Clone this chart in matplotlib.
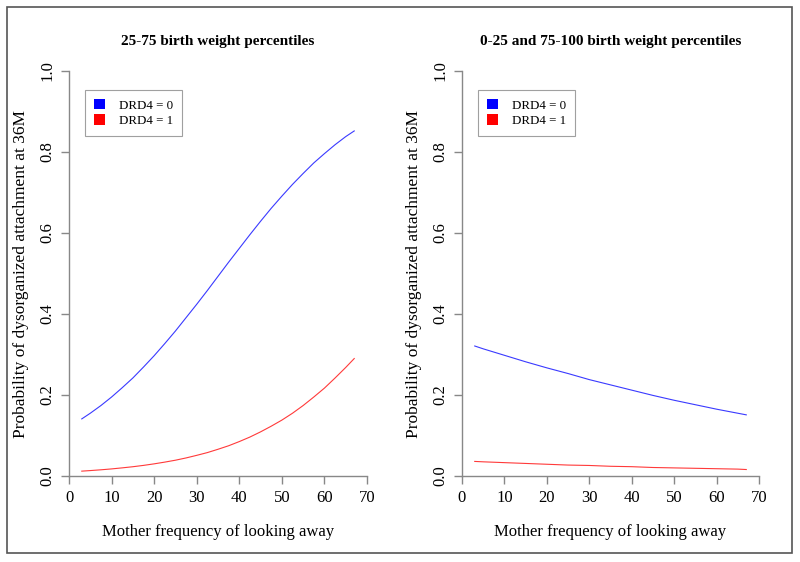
import matplotlib
matplotlib.use("Agg")
import matplotlib.pyplot as plt
from matplotlib.patches import Rectangle

plt.rcParams['font.family'] = ['Liberation Serif', 'DejaVu Serif']

# Data
left_x = [3, 5, 7.5, 10, 12.5, 15, 17.5, 20, 22.5, 25, 27.5, 30, 32.5, 35,
          37.5, 40, 42.5, 45, 47.5, 50, 52.5, 55, 57.5, 60, 62.5, 65, 67]
left_drd0 = [0.141, 0.155, 0.174, 0.195, 0.218, 0.242, 0.269, 0.297, 0.327,
             0.358, 0.391, 0.424, 0.458, 0.493, 0.528, 0.562, 0.596, 0.629,
             0.661, 0.691, 0.720, 0.747, 0.773, 0.796, 0.818, 0.838, 0.852]
left_drd1 = [0.012, 0.0134, 0.0153, 0.0175, 0.0201, 0.0229, 0.0262, 0.030,
             0.0343, 0.039, 0.0446, 0.051, 0.0578, 0.066, 0.0747, 0.085,
             0.0962, 0.109, 0.123, 0.138, 0.155, 0.174, 0.195, 0.217, 0.242,
             0.268, 0.290]

right_x = [3, 5, 10, 15, 20, 25, 30, 35, 40, 45, 50, 55, 60, 65, 67]
right_drd0 = [0.321, 0.314, 0.298, 0.282, 0.267, 0.253, 0.238, 0.225,
              0.212, 0.199, 0.187, 0.176, 0.165, 0.155, 0.151]
right_drd1 = [0.036, 0.035, 0.033, 0.031, 0.029, 0.027, 0.026, 0.024,
              0.023, 0.021, 0.020, 0.019, 0.018, 0.017, 0.016]

titles = ["25-75 birth weight percentiles",
          "0-25 and 75-100 birth weight percentiles"]
legend_labels = ["DRD4 = 0", "DRD4 = 1"]
xlabel = "Mother frequency of looking away"
ylabel = "Probability of dysorganized attachment at 36M"
xticks = [0, 10, 20, 30, 40, 50, 60, 70]
yticks = [0.0, 0.2, 0.4, 0.6, 0.8, 1.0]

fig = plt.figure(figsize=(8.0, 5.62), dpi=100)

# outer frame
fig.patches.append(Rectangle((7/800, 1-553/562), 785/800, 546/562,
                             transform=fig.transFigure, fill=False,
                             edgecolor='#555555', linewidth=1.2))

axes_pos = [[69/800, 1-476/562, 298/800, 405/562],
            [462/800, 1-476/562, 297/800, 405/562]]
series = [(left_x, left_drd0, left_drd1), (right_x, right_drd0, right_drd1)]

for pos, (xs, s0, s1), title in zip(axes_pos, series, titles):
    ax = fig.add_axes(pos)
    ax.plot(xs, s0, color='#3a3aff', lw=0.8)
    ax.plot(xs, s1, color='#ff3a3a', lw=0.8)
    ax.set_xlim(0, 70)
    ax.set_ylim(0, 1)
    for sp in ['top', 'right']:
        ax.spines[sp].set_visible(False)
    for sp in ['left', 'bottom']:
        ax.spines[sp].set_color('#888888')
        ax.spines[sp].set_linewidth(1.0)
    ax.set_xticks(xticks)
    ax.set_yticks(yticks)
    ax.set_xticklabels([str(t) for t in xticks])
    ax.set_yticklabels([f"{t:.1f}" for t in yticks], rotation=90, va='center')
    ax.tick_params(axis='both', colors='#888888', labelcolor='black',
                   labelsize=12, length=6, width=1.0)
    ax.tick_params(axis='x', pad=4)
    ax.tick_params(axis='y', pad=4)
    ax.set_xlabel(xlabel, fontsize=12, labelpad=13)
    ax.set_ylabel(ylabel, fontsize=12.5, labelpad=7)
    ax.set_title(title, fontsize=11, fontweight='bold', pad=19)

    h0 = Rectangle((0, 0), 1, 1, facecolor='blue', edgecolor='none')
    h1 = Rectangle((0, 0), 1, 1, facecolor='red', edgecolor='none')
    leg = ax.legend([h0, h1], legend_labels, loc='upper left',
                    bbox_to_anchor=(16/298, 1-19/405), fontsize=9.3,
                    frameon=True, fancybox=False, handlelength=0.85,
                    handleheight=0.85, handletextpad=1.05, borderpad=0.7,
                    labelspacing=0.2, borderaxespad=0)
    leg.get_frame().set_edgecolor('#888888')
    leg.get_frame().set_linewidth(0.8)

fig.savefig("out.png", dpi=100)
